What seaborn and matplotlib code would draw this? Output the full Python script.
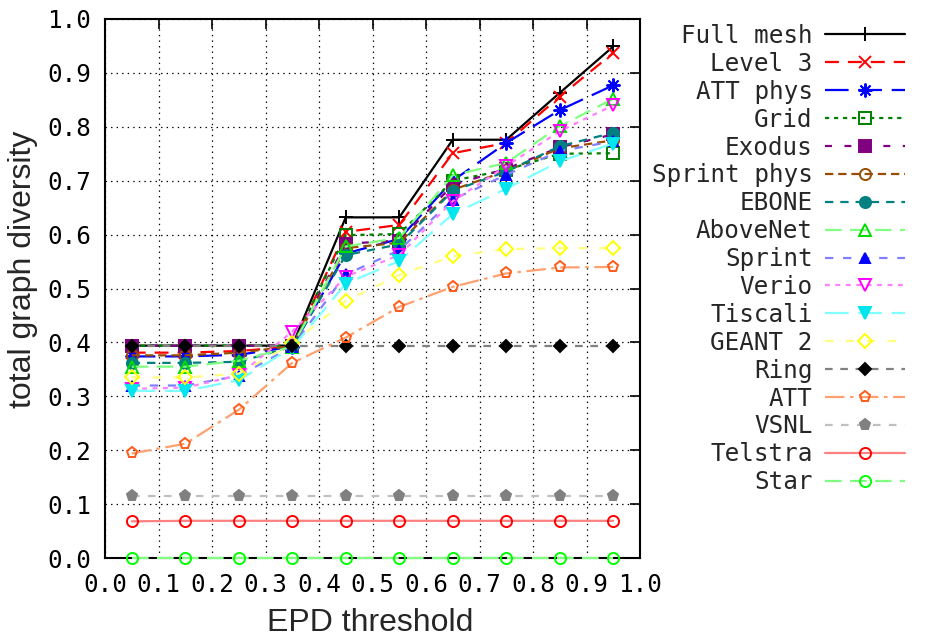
import matplotlib
matplotlib.use("Agg")
import matplotlib.pyplot as plt
import seaborn as sns

# ---------------- data ----------------
thresholds = [0.05, 0.15, 0.25, 0.35, 0.45, 0.55, 0.65, 0.75, 0.85, 0.95]

full_mesh   = [0.394, 0.394, 0.394, 0.394, 0.632, 0.632, 0.776, 0.776, 0.863, 0.949]
level3      = [0.381, 0.381, 0.384, 0.392, 0.605, 0.618, 0.751, 0.770, 0.856, 0.937]
att_phys    = [0.374, 0.374, 0.377, 0.392, 0.565, 0.592, 0.700, 0.770, 0.831, 0.877]
grid_vals   = [0.394, 0.394, 0.394, 0.394, 0.599, 0.601, 0.700, 0.720, 0.750, 0.751]
exodus      = [0.394, 0.394, 0.394, 0.394, 0.583, 0.589, 0.692, 0.722, 0.762, 0.786]
sprint_phys = [0.376, 0.376, 0.381, 0.393, 0.575, 0.585, 0.683, 0.718, 0.760, 0.775]
ebone       = [0.362, 0.362, 0.364, 0.392, 0.562, 0.582, 0.681, 0.717, 0.764, 0.789]
abovenet    = [0.355, 0.355, 0.366, 0.392, 0.578, 0.594, 0.710, 0.733, 0.801, 0.852]
sprint      = [0.320, 0.320, 0.338, 0.392, 0.526, 0.571, 0.665, 0.711, 0.755, 0.773]
verio       = [0.314, 0.316, 0.339, 0.420, 0.522, 0.562, 0.662, 0.727, 0.792, 0.840]
tiscali     = [0.310, 0.310, 0.330, 0.390, 0.509, 0.551, 0.638, 0.685, 0.736, 0.769]
geant2      = [0.335, 0.335, 0.342, 0.398, 0.477, 0.525, 0.560, 0.573, 0.575, 0.575]
ring        = [0.394, 0.394, 0.394, 0.394, 0.394, 0.394, 0.394, 0.394, 0.394, 0.394]
att         = [0.194, 0.212, 0.275, 0.362, 0.409, 0.466, 0.503, 0.528, 0.539, 0.540]
vsnl        = [0.115, 0.115, 0.115, 0.115, 0.115, 0.115, 0.115, 0.115, 0.115, 0.115]
telstra     = [0.068, 0.069, 0.069, 0.069, 0.069, 0.069, 0.069, 0.069, 0.069, 0.069]
star        = [0.000, 0.000, 0.000, 0.000, 0.000, 0.000, 0.000, 0.000, 0.000, 0.000]

series_names = ["Full mesh", "Level 3", "ATT phys", "Grid", "Exodus", "Sprint phys",
                "EBONE", "AboveNet", "Sprint", "Verio", "Tiscali", "GEANT 2", "Ring",
                "ATT", "VSNL", "Telstra", "Star"]
series_values = [full_mesh, level3, att_phys, grid_vals, exodus, sprint_phys, ebone,
                 abovenet, sprint, verio, tiscali, geant2, ring, att, vsnl, telstra, star]

tick_values = [0.0, 0.1, 0.2, 0.3, 0.4, 0.5, 0.6, 0.7, 0.8, 0.9, 1.0]
tick_labels = ["0.0", "0.1", "0.2", "0.3", "0.4", "0.5", "0.6", "0.7", "0.8", "0.9", "1.0"]

# ---------------- styles ----------------
# line colour, marker edge, marker face, marker, marker size, linestyle
styles = {
    "Full mesh":   ("#000000", "#000000", "none",    "+", 10, "-"),
    "Level 3":     ("#ff0000", "#ff0000", "none",    "x", 9,  (0, (10, 6.5))),
    "ATT phys":    ("#0000ff", "#0000ff", "#0000ff", (8, 2, 0), 10, (0, (17, 7))),
    "Grid":        ("#008000", "#008000", "none",    "s", 8,  (0, (3, 3.5))),
    "Exodus":      ("#800080", "#800080", "#800080", "s", 8,  (0, (5, 9))),
    "Sprint phys": ("#994d00", "#994d00", "none",    "o", 8,  (0, (6, 3.5))),
    "EBONE":       ("#008080", "#008080", "#008080", "o", 8,  (0, (6, 5))),
    "AboveNet":    ("#80ff80", "#00dd00", "none",    "^", 8,  (0, (12, 6))),
    "Sprint":      ("#8080ff", "#0000ff", "#0000ff", "^", 7,  (0, (6, 7))),
    "Verio":       ("#ff80ff", "#ff00ff", "none",    "v", 8,  (0, (3.5, 4))),
    "Tiscali":     ("#80ffff", "#00e5ee", "#00e5ee", "v", 8,  (0, (17, 7))),
    "GEANT 2":     ("#ffff80", "#ffff00", "none",    "D", 7,  (0, (6, 9))),
    "Ring":        ("#808080", "#000000", "#000000", "D", 6,  (0, (5.5, 5.5))),
    "ATT":         ("#ffa070", "#ff5a1a", "none",    "p", 8,  (0, (14, 4, 2.5, 4))),
    "VSNL":        ("#c0c0c0", "#808080", "#808080", "p", 8,  (0, (5.5, 6))),
    "Telstra":     ("#ff8080", "#ff0000", "none",    "o", 8,  "-"),
    "Star":        ("#80ff80", "#00ff00", "none",    "o", 8,  (0, (12, 6))),
}

# ---------------- figure ----------------
sns.set_theme(style="white")
plt.rcParams["font.family"] = ["DejaVu Sans Mono"]
plt.rcParams["lines.scale_dashes"] = False

fig = plt.figure(figsize=(9.25, 6.4), dpi=100)
ax = fig.add_axes([105 / 925, (640 - 558) / 640, 535 / 925, 539 / 640])

for name, vals in zip(series_names, series_values):
    lc, mec, mfc, mk, ms, ls = styles[name]
    sns.lineplot(x=thresholds, y=vals, ax=ax, errorbar=None, label=name,
                 color=lc, linestyle=ls, linewidth=1.6, marker=mk, markersize=ms,
                 markeredgecolor=mec, markerfacecolor=mfc, markeredgewidth=1.4,
                 clip_on=False, zorder=3)

ax.set_xlim(0, 1)
ax.set_ylim(0, 1)
ax.set_xticks(tick_values)
ax.set_xticklabels(tick_labels)
ax.set_yticks(tick_values)
ax.set_yticklabels(tick_labels)
ax.tick_params(axis="both", which="major", direction="in", length=7, width=1.2,
               labelsize=17.5, top=True, right=True, colors="black")
ax.tick_params(axis="x", pad=11)
ax.tick_params(axis="y", pad=10)

ax.grid(True, color="black", linestyle=(0, (1, 3)), linewidth=0.9)
ax.set_axisbelow(True)
for sp in ax.spines.values():
    sp.set_color("black")
    sp.set_linewidth(1.5)
    sp.set_visible(True)

ax.set_xlabel("EPD threshold", fontsize=23, family="Liberation Sans")
ax.set_ylabel("total graph diversity", fontsize=23, family="Liberation Sans")
ax.xaxis.set_label_coords(0.495, -0.093)
ax.yaxis.set_label_coords(-0.125, 0.535)

handles, labels = ax.get_legend_handles_labels()
leg = ax.legend(handles, labels, loc="upper right",
                bbox_to_anchor=(905 / 925, (640 - 24) / 640),
                bbox_transform=fig.transFigure, frameon=False, markerfirst=False,
                fontsize=17.5, handlelength=3.3, handletextpad=0.5,
                labelspacing=0.16, borderpad=0, borderaxespad=0, numpoints=1)

fig.savefig("out.png", dpi=100)
